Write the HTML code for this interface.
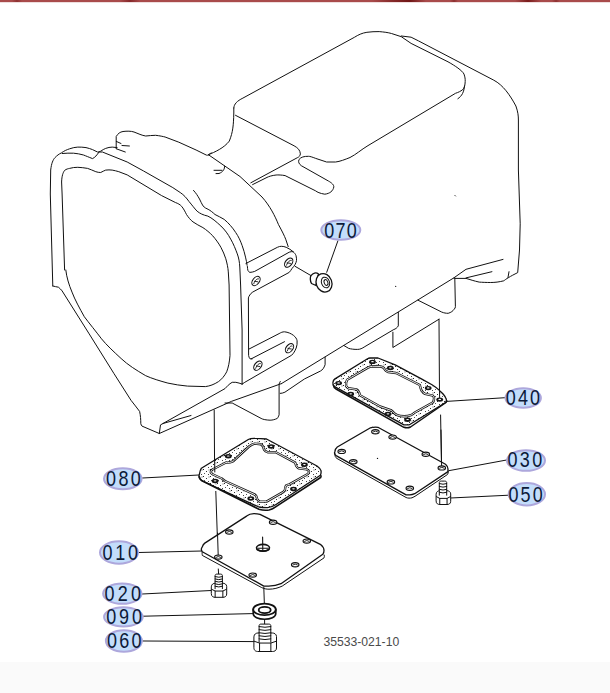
<!DOCTYPE html>
<html><head><meta charset="utf-8">
<style>
html,body{margin:0;padding:0;background:#fff;}
body{width:610px;height:693px;position:relative;overflow:hidden;font-family:"Liberation Sans",sans-serif;}
#top{position:absolute;left:0;top:0;width:610px;height:2px;background:linear-gradient(to right,#a94b4b 0px,#a94b4b 12px,#8e3232 17px,#a94b4b 22px,#a94b4b 120px,#86282a 130px,#a94b4b 140px,#a94b4b 372px,#862a2a 392px,#701616 410px,#a94b4b 426px,#a94b4b 450px,#8c3030 454px,#a94b4b 458px,#a94b4b 515px,#7a1c1c 528px,#a94b4b 541px,#a94b4b 552px,#8e3232 556px,#a94b4b 560px,#a94b4b 610px);box-shadow:0 1px 0 rgba(165,70,70,.18);}
#foot{position:absolute;left:0;top:662px;width:610px;height:31px;background:#fafafa;}
svg{position:absolute;left:0;top:0;}
</style></head><body>
<div id="top"></div>
<div id="foot"></div>
<svg width="610" height="693" viewBox="0 0 610 693" fill="none" stroke="#111" stroke-width="1" stroke-linecap="round" stroke-linejoin="round" font-family="Liberation Sans, sans-serif">
<defs>
<pattern id="stip" width="7" height="7" patternUnits="userSpaceOnUse">
<rect width="7" height="7" fill="#fff" stroke="none"/>
<rect x="0" y="0" width="1" height="1" fill="#222" stroke="none"/>
<rect x="3" y="2" width="1" height="1" fill="#333" stroke="none"/>
<rect x="5" y="5" width="1" height="1" fill="#444" stroke="none"/>
<rect x="1" y="4" width="1" height="1" fill="#555" stroke="none"/>
<rect x="5.5" y="0.5" width="1" height="1" fill="#666" stroke="none"/>
</pattern>
</defs>
<g id="housing">
<!-- top face -->
<path d="M233.8,108 C234,104 237,101 242.9,98.1 L354.6,37.2 C358,35 362,33 366.9,32.3 C371,31.8 375,31.5 379.2,31.6 C384,32 388,32.5 391.5,33.5 L401.3,36.7 L411.1,43.4 L448,61.8 C452,64 455,66 457.9,68 C461,70.5 463,72 464,74.1 C465,77 465.3,79 465.2,81.5 C465,85 464.6,88 462.5,89.8 C460.5,91.3 458.5,92.3 455.5,93.3 L368,145.6 C361,149.8 356,154.5 350,157.5 C345,159.5 340,161.5 335.6,162 L326.6,162 L315.7,158.4 C312,157 310,156.3 308.5,156.3 C304,156.3 301,157 299,159.5 C298,162 299,164 301.3,165.7 L328.4,181 C332,183 334,185 333.8,187 C333,191 330,193.5 324.8,194.2 C320,193.5 317,192 315.7,190.9 L285.1,175.6 C282,175 278,174.8 276.1,175 C272,175.5 269,176.4 267,177.4 L252.6,184.6"/>
<path d="M464.5,86 C464,92 462,96 457.9,98.7"/>
<path d="M233.8,108 L233.8,113 C233.5,125 233,132 229.3,141.1 C224,148 215,152 208.4,154.7"/>
<path d="M235.5,115.3 L294.1,145.8 C298,148 300,150 300.4,153.9 C300,156 299,157 297.7,157.5 L250.8,182.8"/>
<!-- rim -->
<path d="M401.3,36 L411.1,37.2 L418.5,40.9 L493.8,80.2 C503,85 510,95 515.9,106 C518,112 518.4,116 518.4,120 L518.4,170 L520.2,223.8 L519.5,250 L517.7,272.6 C514,274.5 511,276 508.7,277.5 C506,279 505,280 503.8,280.8 C499,282 495,282.5 490.7,282.5 C486,282.5 482,282.3 479.2,282.1 C474,281 470,279.5 466,278.4 L454.6,278.4"/>
<path d="M509,271.7 L508,277.5"/>
<!-- neck diagonal -->
<path d="M208.4,154.7 L240,176.5 L262,197 C270,206 275,216 278.4,224.4 C282,231 284.5,236 285.7,239.2 L288.2,246.6"/>
<!-- boss on flange top -->
<path d="M116.2,148.5 L116.2,136.5 C118,133.5 120,132 123,131.5 C127,131 131,131 134,132 C138,133.5 142,135.5 145.7,136 C149,135.8 152,135.3 155.6,135.3 C160,135.8 163,136.5 165.1,137 L178.8,142.2 L196.1,150 L206.4,155.1 C208,155.5 209,155 211,152.8"/>
<path d="M224.5,166 C225,169 223,172 219,173.5 L216,173.6 M214,170.3 L222,170.3"/>
<path d="M116.3,141.4 L121,143.5 M122,145.5 L129.4,146 M116.3,148.8 L125.3,152"/>
<!-- flange outer -->
<path d="M52.8,286 L50.3,194 L50.7,170 C51.5,163 53,160 54.8,157.8 C57,155.5 59,154 61.4,152.9 C64,151 66.5,149.8 69.6,148.8 C72.5,147.8 75,147.2 77.8,147.1 C80.5,147 83,147.2 86,147.6 C88.5,148.2 90.5,148.8 92.5,149.6 L97.5,152 C98.5,152 99.5,151.8 100.7,151.2 C102.5,150 104,149 105.7,148.4 C108,147.5 110,147.2 112.2,147.1 L117.1,147.6"/>
<path d="M62.2,153.5 C66,153.2 70,153 73.5,153.2 C77,153.5 80,154 83.5,155 C86,156 88.5,157 92.5,158.6 C95,157.5 97,155 99,152 L102.4,152 L127.2,162 L143.4,170.9 L172.8,187.6 L180.2,192.5 C184,195 186.5,198 189,201.5 C192,205 194.5,208.5 197.1,211.2 C200,213.5 203,215 207.8,216.1 C212,218 216,221.5 220.9,226 C225,230 228,234 230.7,239.1 C233.5,244 235.5,249 237.3,253.9 C238.8,258 239.5,262 239.8,267 L240.6,285 L242.1,330 L242.1,384.1"/>
<path d="M64.6,270 L62.1,194 L61.6,182 C61.8,176 63,172.5 64.6,170.4 C66.5,169 68,168.7 69.6,168.4 C72,167.6 75,167.3 77.8,167.3 C81,167.5 84.5,167.8 87.6,168.4 C90,169.2 93,170.5 95.8,171.7 C97.5,172.3 99,172.5 100.7,172.5 C102.5,171.8 104,170.5 105.7,170.1 C108,169.8 110,169.8 112.2,170.1 C114.5,170.5 116.5,171 118.8,171.7 L127.2,174.9 L161.6,195.6 L175.4,202.5 C178,203.5 180,204.5 181.6,206.3 C183.5,208.5 185,211.5 186.5,214.5 C188.5,217.5 190.5,220 193,221.9 C196,224 199.5,225.8 202.9,227.6 C206.5,230 209.5,232.5 212.7,235.8 C215.5,239 218.5,243 220.9,247.3 C223,251 224.5,255 225.8,258.8 C227,263 228,267.5 228.3,271.9 L229.1,285 L230,355.4 C229.5,362 228.5,367 226.7,371.8 C224.5,376 221.5,379.5 218.5,381.6 C214,384.5 210,386 205.4,386.6 L187.5,386.1 C181,385.5 174,384.5 167.9,383.1 C160,381 152,378.5 145.7,375.7 C136,370 128,365 121.1,358.5 C113,351 106.5,345 101.5,338.8 C96,331.5 89,323 84.3,316.7 C79.5,308 75,300 72,292.1 C69,285 66.5,277 65.8,270"/>
<path d="M193.5,190.4 C196,193 197.8,196 199.5,199 C200.8,201.5 201.8,204 203,205.9 C204.5,207.5 206,208.5 208.1,209.3 C210.5,210.5 212.8,212.5 215,214.5 C218,216 221,217.5 224.2,219.4 C228.5,223 232.5,227.5 235.7,232.5 C238.5,236.5 240.5,241 242.2,245.7 C243.5,249.5 244.8,253.5 245.5,257.1 C246.2,260 246.8,263 247.1,265.3"/>
<!-- flange bottom -->
<path d="M52.8,286 C54.5,286.5 56.5,286.8 58.4,287.2 C60,288.5 61,289.5 62.1,290.9 L89.2,333.9 L113.8,373.3 L131,400.3 C134,404 137,408 139.6,411.4 C140.5,415 140.8,420 140.8,423.7 C141,424.8 141.5,425.5 142,426.1 L159.3,433.5 L160.5,424.9 L225,388.6 C227,386.5 229,384 232.2,382.3 L235.8,382.3 C238,382.5 240,383.5 242.1,384.1"/>
<path d="M163,423.5 L191,415.5"/>
<path d="M159.3,433.5 L231.6,401.3 L281.5,383.6"/>
<path d="M280.3,381.5 C279.8,382.5 279.3,383 279.1,384.1 L279.1,414.8 C278.5,416.5 278,417.5 277.3,418.4 C275,419.5 272.5,420.2 270.1,420.2 C266,420 263,419.5 261.1,418.4 L232.2,403 L225,403"/>
<!-- brackets -->
<path d="M245.9,263.5 L277.4,247.3 C279,246.6 280,246.3 281.3,246.3 C283,246.3 284.8,246.7 286.2,247.3 C289,248.5 291.2,250 293.1,251.7 C294.6,253 295.5,254.2 296,255.6 C296.5,257.5 296.6,259 296.5,260.6 C296.2,262 295.8,263.3 295.1,264.5 C294.3,265.8 293.3,267.1 292.1,268.4 C291.2,269.8 290.3,271.2 289.2,272.4 L252.8,292 C251.5,292.8 250.5,293.8 249.8,295 C249,296 248.6,297 248.4,297.9 L248.6,355.4 C248.9,356.8 249.2,357.8 249.6,358.4 C250.4,358.8 251.2,358.9 252.1,358.9"/>
<path d="M247.4,266.5 C247.5,268 247.6,269.4 247.9,270.4 C248.4,271.4 249,272 249.8,272.4 C251.5,272.3 253,272 254.7,271.4 L289.2,252.2 C290.5,251.6 291.8,251.5 293.1,251.7"/>
<path d="M249.3,348.9 L279.1,333.6 C281,332.5 282.5,331.8 284.5,331.8 C288,332.2 291,333.5 293.5,335.4 C295.5,337 296.8,338.8 297.1,340.8 C297.3,343.5 297,346 296.2,348 C295,351 293.5,353.5 291.7,355.2 L244.8,382.3 L242.1,384.1"/>
<path d="M251.1,358.9 L284.5,341.7"/>
<ellipse cx="288.7" cy="262.6" rx="5.2" ry="3.3" stroke-width="1.1" transform="rotate(-52 288.7 262.6)"/><path d="M286.5,265.2 C287.7,261.6 290.2,259.8 291.3,260.4 M287.2,262.9 L290.5,263.4" stroke-width="0.9"/>
<ellipse cx="256" cy="281" rx="5.2" ry="3.3" stroke-width="1.1" transform="rotate(-52 256 281)"/><path d="M253.8,283.6 C255.0,280.0 257.5,278.2 258.6,278.8 M254.5,281.3 L257.8,281.8" stroke-width="0.9"/>
<ellipse cx="289.5" cy="348.2" rx="5.2" ry="3.3" stroke-width="1.1" transform="rotate(-52 289.5 348.2)"/><path d="M287.3,350.8 C288.5,347.2 291.0,345.4 292.1,346.0 M288.0,348.5 L291.3,349.0" stroke-width="0.9"/>
<ellipse cx="257.9" cy="365.7" rx="5.2" ry="3.3" stroke-width="1.1" transform="rotate(-52 257.9 365.7)"/><path d="M255.7,368.3 C256.9,364.7 259.4,362.9 260.5,363.5 M256.4,366.0 L259.7,366.5" stroke-width="0.9"/>
<!-- lower right housing -->
<path d="M453.8,277.9 L466,269.3 L503,259.4"/>
<path d="M466,277.9 L491.9,271.7"/>
<path d="M453.8,277.9 L281.5,383.6"/>
<path d="M418,300.2 L441.6,312 C444,313 446,313.3 448.2,313.3 C451,312.5 453,311 454.1,309.3 C455,308.5 455.4,307.5 455.4,306.7 L454.8,278"/>
<circle cx="395.7" cy="286.4" r="0.6" fill="#111" stroke="none"/>
<path d="M398.3,312.4 L398.3,325.9 C397,328 395.5,329 393.8,329.5 L364.9,346.6 C362,348.5 360,349.4 357.7,349.4 C354,349.5 351,349 348.7,348.4 L344.2,345.7"/>
<path d="M392.9,332.2 L392.9,347.5 L439,319.2"/>
<path d="M325.1,357.2 L325.1,364.7 C324,368 322.5,370 320.5,371 L304.4,379 L284.9,392.2 C283,393 281.5,393.4 280.3,393.4"/>
<path d="M455,195.5 L455.5,196"/>
</g>
<g id="parts">
<!-- guide lines -->
<path d="M439,319.2 L439.5,395.4 M440.6,415 L441.5,465"/>
<path d="M214.2,410 L214.6,466.8 M215.8,491.4 L218,555 M218.3,569 L218.6,574"/>
<path d="M263.8,587.4 L264.4,605 M264.6,619.3 L264.6,626 M262.5,537 L262.5,545"/>
<path d="M295.2,266.4 L311,275.6"/>
<!-- leaders -->
<path d="M337.9,240.8 L326.7,272.3 M446.5,401.4 L505,397.7 M448.7,470.7 L507.1,459.9 M450.4,498 L508.9,495.2 M142.6,478 L199,475 M139,552.5 L202,551 M142.3,594 L211.3,590.5 M143.5,616.2 L252.8,613.6 M142.8,641 L254.1,641.6"/>
<!-- gasket 080 -->
<path fill="url(#stip)" stroke-width="1.3" d="M202.5,481 C199.5,479.5 198.5,477 199.3,474.6 C199.8,471.5 200.5,469.5 201.4,468.2 L248.3,439.5 C250,438.5 252,438.2 255,438.3 C259,438.3 263,438.6 266.5,439 L317,466 C319,467.5 320.5,469 321,470.6 C321.3,472.5 321,474 320.4,475.2 L276,504.5 C273,506.5 270.5,507.5 267.5,507.7 C264.5,507.8 261.5,507.5 258.9,507 Z"/>
<path id="in080" fill="#fff" stroke-width="2.4" d="M211,472.9 C210.5,471.5 211,470.5 212.5,469.5 L226,462.5 C228,462.8 230.5,462.5 232.9,461.4 C234,460.5 235,459.8 236,458.5 L249,446.5 C251,445 252.8,444 254.7,443.6 L260.7,444.2 C262,445 262.7,445.8 263,446.5 C263.5,448 263.8,449 264.2,449.9 C265,451 266.3,451.8 267.6,452.2 L275.7,452.2 L295.2,462.6 C295.6,464 295.9,465 296.3,466 C297,467.2 297.8,468 298.6,468.3 L306.7,469.4 C308,470 309,470.8 309,471.7 C309,472.7 308.5,473.5 307.8,474 L289.4,484.4 C288,484.8 287,485 286,485.5 C285.3,486.8 285,488.5 284.9,490.1 C284.3,491.2 283.5,491.8 282.6,492.4 L266.5,501.6 L259.6,501.6 C258.5,501 257.8,500.2 257.3,499.3 C256.8,498 256.5,496.8 256.1,495.8 L255,494.7 L226,481.5 C224,481 223,479.5 222,478.5 L219.5,477.5 L213,474.5 Z"/>
<path stroke="#fff" stroke-width="0.9" d="M211,472.9 C210.5,471.5 211,470.5 212.5,469.5 L226,462.5 C228,462.8 230.5,462.5 232.9,461.4 C234,460.5 235,459.8 236,458.5 L249,446.5 C251,445 252.8,444 254.7,443.6 L260.7,444.2 C262,445 262.7,445.8 263,446.5 C263.5,448 263.8,449 264.2,449.9 C265,451 266.3,451.8 267.6,452.2 L275.7,452.2 L295.2,462.6 C295.6,464 295.9,465 296.3,466 C297,467.2 297.8,468 298.6,468.3 L306.7,469.4 C308,470 309,470.8 309,471.7 C309,472.7 308.5,473.5 307.8,474 L289.4,484.4 C288,484.8 287,485 286,485.5 C285.3,486.8 285,488.5 284.9,490.1 C284.3,491.2 283.5,491.8 282.6,492.4 L266.5,501.6 L259.6,501.6 C258.5,501 257.8,500.2 257.3,499.3 C256.8,498 256.5,496.8 256.1,495.8 L255,494.7 L226,481.5 C224,481 223,479.5 222,478.5 L219.5,477.5 L213,474.5 Z"/>
<path stroke-width="1.6" d="M199.3,476.8 C199.5,478.5 200.5,479.5 202,480.8 L258.9,509.2 C262,510.2 266,510.5 269,510 C272,509.4 274,508.2 276,506.7 L320.6,477.5 C321,476.8 321.1,476.3 321,475.8"/>
<!-- gasket 040 -->
<path fill="url(#stip)" stroke-width="1.3" d="M334.6,386.6 C333,385.5 332.6,384.5 332.9,382.6 C333.1,381 333.6,379.8 334.6,379.1 L367.5,358.8 C368.5,358.2 369.2,358 369.9,358 L378,358 L395.2,364.9 L421.4,378.9 L432,384.7 C435,386.5 437.5,388.5 439.4,390.4 C441,392 442.5,393.2 443.5,394.5 C444.8,396 445.6,397.3 446,398.6 C446.4,399.5 446.5,400.4 446.4,401.1 C446.1,401.8 445.7,402.3 445.2,402.7 L410.2,424.3 C409,424.8 408,425 407,424.9 C405.8,425 404.8,425 403.9,424.9 Z"/>
<path fill="#fff" stroke-width="2.4" d="M347.2,379.7 L367.9,367.6 C370,366.6 372,366.3 374,366.3 L380.5,366.5 C382.5,366.8 384,367.6 384.6,369.2 C385.5,371 386.9,371.5 388,372 L396,373 L419.8,385 C420.5,388 420.8,389 421.5,390.5 C422.5,392 423.6,393.3 425,393.8 L432.8,395.6 C433.8,396.5 434.2,398 434,399 C433.8,400.8 433.3,401.8 432.8,402.5 L414.4,412.8 C413,414 411.8,414.8 411,415.1 C408.5,416 406,416.3 404.1,416.3 C401.5,416.2 399,415.8 397.2,415.1 C395.5,414.3 394.5,413.5 393.8,412.8 C392.8,411.5 392,410.8 391.5,410.5 L380,406.5 L359.9,395.2 C359.5,393 359.2,392.5 358.7,391.7 C358,390.5 357.2,389.8 356.4,389.4 L348.4,388.3 C347.2,387.5 346.5,386.8 346.1,386 C345.8,384 346.2,381.5 347.2,379.7 Z"/>
<path stroke="#fff" stroke-width="0.9" d="M347.2,379.7 L367.9,367.6 C370,366.6 372,366.3 374,366.3 L380.5,366.5 C382.5,366.8 384,367.6 384.6,369.2 C385.5,371 386.9,371.5 388,372 L396,373 L419.8,385 C420.5,388 420.8,389 421.5,390.5 C422.5,392 423.6,393.3 425,393.8 L432.8,395.6 C433.8,396.5 434.2,398 434,399 C433.8,400.8 433.3,401.8 432.8,402.5 L414.4,412.8 C413,414 411.8,414.8 411,415.1 C408.5,416 406,416.3 404.1,416.3 C401.5,416.2 399,415.8 397.2,415.1 C395.5,414.3 394.5,413.5 393.8,412.8 C392.8,411.5 392,410.8 391.5,410.5 L380,406.5 L359.9,395.2 C359.5,393 359.2,392.5 358.7,391.7 C358,390.5 357.2,389.8 356.4,389.4 L348.4,388.3 C347.2,387.5 346.5,386.8 346.1,386 C345.8,384 346.2,381.5 347.2,379.7 Z"/>
<path stroke-width="1.5" d="M333.3,385 C333.5,387 334.5,388.3 336,389 L403.9,427.3 C406,428 408.5,428 410.5,427 L446,402.5 C446.6,401.8 446.8,401 446.7,400.4"/>
<!-- cover 030 -->
<path fill="#fff" stroke-width="1.3" d="M336.1,455.6 C334.5,454.5 334.2,452.5 334.8,451.9 C335,449.5 336,448 337.3,447 L370.5,427.8 C372,427.3 373,427.2 373,427.3 C375,427.1 376.5,427.1 377.9,427.3 L445.5,464.2 C447,465.5 448,467 448,469.1 C448,470 447.8,470.8 448,471.6 L414.7,493.7 C413,494.5 411.5,494.9 409.8,494.9 C408.5,494.9 407.2,494.9 406.1,494.9 Z"/>
<path d="M334.8,453 C334.8,456.5 335.5,457.5 337,458.5 L406.1,497.5 C408,498.3 410,498.3 412,497.8 L415,496.3 L447.5,474.5 C448.2,473.5 448.3,472.5 448.2,471.6"/>
<!-- cover 010 -->
<path fill="#fff" stroke-width="1.3" d="M202.3,551.7 C201,550 201.3,548 202.3,546.8 C202.8,545 203.5,544 204.8,543.1 L246.6,516.1 C248.5,514.5 251,513.6 253.9,513.6 C256,513.6 258,513.8 260,514.3 L320.3,544.3 C322.5,546 324,548 324,550.5 C324,552 323.6,553.3 322.8,554.2 L281,583.7 C277,585.5 273,586.1 268.7,586.1 C266.5,586.1 265,586.1 263.8,586.1 Z"/>
<path d="M202.1,552.5 C202,554 202.3,554.8 202.3,555.4 L261.3,587.4 C264,588.8 266.5,589.2 269,589.2 C274,589.2 278,588 282.2,586.1 L324,557.9 C324.5,557 324.5,556 324.2,555"/>
</g>
<g id="holes" fill="#fff">
<!-- gasket 080 holes -->
<ellipse cx="228.3" cy="456.2" rx="3.4" ry="2.2" fill="#151515" stroke="none"/><ellipse cx="228.3" cy="456.0" rx="1.4" ry="0.6" fill="#fff" stroke="none"/>
<ellipse cx="271.1" cy="446.5" rx="3.4" ry="2.2" fill="#151515" stroke="none"/><ellipse cx="271.1" cy="446.3" rx="1.4" ry="0.6" fill="#fff" stroke="none"/>
<ellipse cx="304.4" cy="464.8" rx="3.4" ry="2.2" fill="#151515" stroke="none"/><ellipse cx="304.4" cy="464.6" rx="1.4" ry="0.6" fill="#fff" stroke="none"/>
<ellipse cx="293.5" cy="489" rx="3.4" ry="2.2" fill="#151515" stroke="none"/><ellipse cx="293.5" cy="488.8" rx="1.4" ry="0.6" fill="#fff" stroke="none"/>
<ellipse cx="250.8" cy="498.5" rx="3.4" ry="2.2" fill="#151515" stroke="none"/><ellipse cx="250.8" cy="498.3" rx="1.4" ry="0.6" fill="#fff" stroke="none"/>
<ellipse cx="215.1" cy="481" rx="3.4" ry="2.2" fill="#151515" stroke="none"/><ellipse cx="215.1" cy="480.8" rx="1.4" ry="0.6" fill="#fff" stroke="none"/>
<ellipse cx="338.6" cy="383.1" rx="3.4" ry="2.2" fill="#151515" stroke="none"/><ellipse cx="338.6" cy="382.9" rx="1.4" ry="0.6" fill="#fff" stroke="none"/>
<ellipse cx="372.5" cy="361.9" rx="3.4" ry="2.2" fill="#151515" stroke="none"/><ellipse cx="372.5" cy="361.7" rx="1.4" ry="0.6" fill="#fff" stroke="none"/>
<ellipse cx="390.3" cy="368" rx="3.4" ry="2.2" fill="#151515" stroke="none"/><ellipse cx="390.3" cy="367.8" rx="1.4" ry="0.6" fill="#fff" stroke="none"/>
<ellipse cx="428.2" cy="388.1" rx="3.4" ry="2.2" fill="#151515" stroke="none"/><ellipse cx="428.2" cy="387.9" rx="1.4" ry="0.6" fill="#fff" stroke="none"/>
<ellipse cx="439.7" cy="399.6" rx="3.4" ry="2.2" fill="#151515" stroke="none"/><ellipse cx="439.7" cy="399.4" rx="1.4" ry="0.6" fill="#fff" stroke="none"/>
<ellipse cx="407.6" cy="419.7" rx="3.4" ry="2.2" fill="#151515" stroke="none"/><ellipse cx="407.6" cy="419.5" rx="1.4" ry="0.6" fill="#fff" stroke="none"/>
<ellipse cx="388" cy="414" rx="3.4" ry="2.2" fill="#151515" stroke="none"/><ellipse cx="388.0" cy="413.8" rx="1.4" ry="0.6" fill="#fff" stroke="none"/>
<ellipse cx="350.7" cy="394" rx="3.4" ry="2.2" fill="#151515" stroke="none"/><ellipse cx="350.7" cy="393.8" rx="1.4" ry="0.6" fill="#fff" stroke="none"/>
<!-- cover 030 holes -->
<ellipse cx="375.4" cy="431.7" rx="3.7" ry="2.1" stroke-width="1.2"/><path d="M373.1,431.9 Q375.4,430.1 377.7,431.9" stroke-width="0.9"/>
<ellipse cx="392.6" cy="437.1" rx="3.7" ry="2.1" stroke-width="1.2"/><path d="M390.3,437.3 Q392.6,435.5 394.9,437.3" stroke-width="0.9"/>
<ellipse cx="341.7" cy="451.4" rx="3.7" ry="2.1" stroke-width="1.2"/><path d="M339.4,451.6 Q341.7,449.8 344.0,451.6" stroke-width="0.9"/>
<ellipse cx="353.3" cy="461.7" rx="3.7" ry="2.1" stroke-width="1.2"/><path d="M351.0,461.9 Q353.3,460.1 355.6,461.9" stroke-width="0.9"/>
<ellipse cx="425.8" cy="454.3" rx="3.7" ry="2.1" stroke-width="1.2"/><path d="M423.5,454.5 Q425.8,452.7 428.1,454.5" stroke-width="0.9"/>
<ellipse cx="441.8" cy="467.9" rx="3.7" ry="2.1" stroke-width="1.2"/><path d="M439.5,468.1 Q441.8,466.3 444.1,468.1" stroke-width="0.9"/>
<ellipse cx="390.9" cy="481.9" rx="3.7" ry="2.1" stroke-width="1.2"/><path d="M388.6,482.1 Q390.9,480.3 393.2,482.1" stroke-width="0.9"/>
<ellipse cx="409.8" cy="488.3" rx="3.7" ry="2.1" stroke-width="1.2"/><path d="M407.5,488.5 Q409.8,486.7 412.1,488.5" stroke-width="0.9"/>
<!-- cover 010 holes -->
<ellipse cx="229.3" cy="532.0" rx="3.7" ry="2.1" stroke-width="1.2"/><path d="M227.0,532.2 Q229.3,530.4 231.6,532.2" stroke-width="0.9"/>
<ellipse cx="273.1" cy="522.2" rx="3.7" ry="2.1" stroke-width="1.2"/><path d="M270.8,522.4 Q273.1,520.6 275.4,522.4" stroke-width="0.9"/>
<ellipse cx="306.8" cy="541.1" rx="3.7" ry="2.1" stroke-width="1.2"/><path d="M304.5,541.3 Q306.8,539.5 309.1,541.3" stroke-width="0.9"/>
<ellipse cx="295.2" cy="564.7" rx="3.7" ry="2.1" stroke-width="1.2"/><path d="M292.9,564.9 Q295.2,563.1 297.5,564.9" stroke-width="0.9"/>
<ellipse cx="252.7" cy="575.1" rx="3.7" ry="2.1" stroke-width="1.2"/><path d="M250.4,575.3 Q252.7,573.5 255.0,575.3" stroke-width="0.9"/>
<ellipse cx="218.3" cy="557.1" rx="3.7" ry="2.1" stroke-width="1.2"/><path d="M216.0,557.3 Q218.3,555.5 220.6,557.3" stroke-width="0.9"/>
<ellipse cx="263" cy="547.8" rx="6.5" ry="3.4" stroke-width="1.6"/><path fill="none" d="M257,549.6 Q263,552.5 269,549.6" stroke-width="1.4"/><path d="M258,548.3 L268,548.3 M262.6,537 L262.8,550.5" stroke-width="1.1"/>
<circle cx="377.5" cy="458.4" r="0.7" fill="#111" stroke="none"/>
</g>
<path d="M217.5,533 L218.2,555 M441,430 L441.6,465.5 M439.5,389 L439.6,397 M214.6,459 L214.8,472"/>
<g id="bolts" fill="#fff">
<!-- plug 070 -->
<path stroke-width="1.3" d="M311,275.6 C310,277 310,281 311.5,283.5 L316,285.5 L318.5,274 C316,272 313,273 311,275.6 Z"/>
<ellipse cx="324" cy="282.8" rx="7.8" ry="9.4" stroke-width="1.3" transform="rotate(-20 324 282.8)"/>
<ellipse cx="325.5" cy="282.5" rx="4" ry="5.5" transform="rotate(-20 325.5 282.5)"/>
<ellipse cx="326" cy="282.5" rx="1.8" ry="3" transform="rotate(-20 326 282.5)"/>
<!-- bolt 020 -->
<path d="M211.3,586.51 C211.3,584.2 213.61,583.2 215.11,583.2 L222.89,583.2 C224.39,583.2 226.7,584.2 226.7,586.51 L226.7,593.99 C226.7,596.8 224.39,597.3 222.89,597.3 L215.11,597.3 C213.61,597.3 211.3,596.8 211.3,593.99 Z"/>
<path d="M211.60000000000002,589.25 L215.15,591.05 L222.85,591.05 L226.39999999999998,589.25 M215.15,591.05 L215.15,597.3 M222.85,591.05 L222.85,597.3"/>
<path d="M215.1,588.7 L215.1,575.6 C215.1,574.4 216.1,574.1 217.1,574.1 L220.4,574.1 C221.4,574.1 222.4,574.4 222.4,575.6 L222.4,588.7"/>
<path d="M215.1,576.6 Q218.8,578.0 222.4,576.6 M215.1,579.0 Q218.8,580.4 222.4,579.0 M215.1,581.4 Q218.8,582.8 222.4,581.4 M215.1,583.9 Q218.8,585.3 222.4,583.9 M215.1,586.3 Q218.8,587.7 222.4,586.3 "/>
<!-- bolt 050 -->
<path d="M436.1,493.89 C436.1,491.7 438.29,490.7 439.79,490.7 L447.01,490.7 C448.51,490.7 450.7,491.7 450.7,493.89 L450.7,501.31 C450.7,504.0 448.51,504.5 447.01,504.5 L439.79,504.5 C438.29,504.5 436.1,504.0 436.1,501.31 Z"/>
<path d="M436.40000000000003,496.6 L439.75,498.40000000000003 L447.05,498.40000000000003 L450.4,496.6 M439.75,498.40000000000003 L439.75,504.5 M447.05,498.40000000000003 L447.05,504.5"/>
<path d="M439.3,495.2 L439.3,482.6 C439.3,481.40000000000003 440.3,481.1 441.3,481.1 L444.7,481.1 C445.7,481.1 446.7,481.40000000000003 446.7,482.6 L446.7,495.2"/>
<path d="M439.3,483.6 Q443.0,485.0 446.7,483.6 M439.3,486.5 Q443.0,487.9 446.7,486.5 M439.3,489.4 Q443.0,490.8 446.7,489.4 M439.3,492.3 Q443.0,493.7 446.7,492.3 "/>
<!-- washer 090 -->
<path stroke-width="1.6" d="M253.2,609.4 L253.2,613.5 C253.2,617 258.5,619.2 264.5,619.2 C270.5,619.2 275.8,617 275.8,613.5 L275.8,609.4"/>
<ellipse cx="264.5" cy="609.4" rx="11.3" ry="5.7" stroke-width="1.8"/>
<ellipse cx="264.7" cy="610" rx="6" ry="3.1" stroke-width="1.8"/>
<!-- bolt 060 -->
<path d="M253.9,636.5 C253.9,634 256.4,633 257.9,633 L272.5,633 C274.0,633 276.5,634 276.5,636.5 L276.5,648.0 C276.5,651.0 274.0,651.5 272.5,651.5 L257.9,651.5 C256.4,651.5 253.9,651.0 253.9,648.0 Z"/>
<path d="M254.20000000000002,641.25 L259.55,643.05 L270.85,643.05 L276.2,641.25 M259.55,643.05 L259.55,651.5 M270.85,643.05 L270.85,651.5"/>
<path d="M259.1,642 L259.1,625.6 C259.1,624.4 260.1,624.1 261.1,624.1 L268.8,624.1 C269.8,624.1 270.8,624.4 270.8,625.6 L270.8,642"/>
<path d="M259.1,626.6 Q265.0,628.0 270.8,626.6 M259.1,629.7 Q265.0,631.1 270.8,629.7 M259.1,632.8 Q265.0,634.2 270.8,632.8 M259.1,635.8 Q265.0,637.2 270.8,635.8 M259.1,638.9 Q265.0,640.3 270.8,638.9 "/>
</g>

<g id="labels">
<ellipse cx="340.8" cy="230.0" rx="19.5" ry="9.7" fill="#c3ddfb" stroke="#ada7dc" stroke-width="2"/>
<text transform="translate(324.3,238.2) scale(0.845,1)" font-size="21.3" letter-spacing="1.48" fill="#0c1a38" stroke="none">070</text>
<ellipse cx="523.2" cy="398.0" rx="17.7" ry="9.8" fill="#c3ddfb" stroke="#ada7dc" stroke-width="2"/>
<text transform="translate(505.8,404.8) scale(0.845,1)" font-size="21.3" letter-spacing="2.54" fill="#0c1a38" stroke="none">040</text>
<ellipse cx="122.8" cy="478.7" rx="18.8" ry="10.5" fill="#c3ddfb" stroke="#ada7dc" stroke-width="2"/>
<text transform="translate(106.0,485.70000000000005) scale(0.845,1)" font-size="21.3" letter-spacing="2.84" fill="#0c1a38" stroke="none">080</text>
<ellipse cx="526.0" cy="460.5" rx="19.0" ry="10.3" fill="#c3ddfb" stroke="#ada7dc" stroke-width="2"/>
<text transform="translate(507.4,467.1) scale(0.845,1)" font-size="21.3" letter-spacing="2.84" fill="#0c1a38" stroke="none">030</text>
<ellipse cx="526.8" cy="494.3" rx="18.2" ry="11.2" fill="#c3ddfb" stroke="#ada7dc" stroke-width="2"/>
<text transform="translate(508.4,501.8) scale(0.845,1)" font-size="21.3" letter-spacing="2.54" fill="#0c1a38" stroke="none">050</text>
<ellipse cx="119.0" cy="552.5" rx="19.0" ry="11.2" fill="#c3ddfb" stroke="#ada7dc" stroke-width="2"/>
<text transform="translate(102.6,559.9) scale(0.845,1)" font-size="21.3" letter-spacing="3.14" fill="#0c1a38" stroke="none">010</text>
<ellipse cx="122.3" cy="593.6" rx="19.2" ry="10.2" fill="#c3ddfb" stroke="#ada7dc" stroke-width="2"/>
<text transform="translate(104.6,600.8000000000001) scale(0.845,1)" font-size="21.3" letter-spacing="3.73" fill="#0c1a38" stroke="none">020</text>
<ellipse cx="123.4" cy="616.9" rx="19.3" ry="9.6" fill="#c3ddfb" stroke="#ada7dc" stroke-width="2"/>
<text transform="translate(106.2,623.9) scale(0.845,1)" font-size="21.3" letter-spacing="3.37" fill="#0c1a38" stroke="none">090</text>
<ellipse cx="123.9" cy="641.0" rx="18.0" ry="10.7" fill="#c3ddfb" stroke="#ada7dc" stroke-width="2"/>
<text transform="translate(107.1,648.3000000000001) scale(0.845,1)" font-size="21.3" letter-spacing="2.54" fill="#0c1a38" stroke="none">060</text>
</g>
<text x="323.6" y="645.7" font-size="12.2" letter-spacing="-0.03" fill="#4a4a4a" stroke="none">35533-021-10</text>
</svg>
</body></html>
